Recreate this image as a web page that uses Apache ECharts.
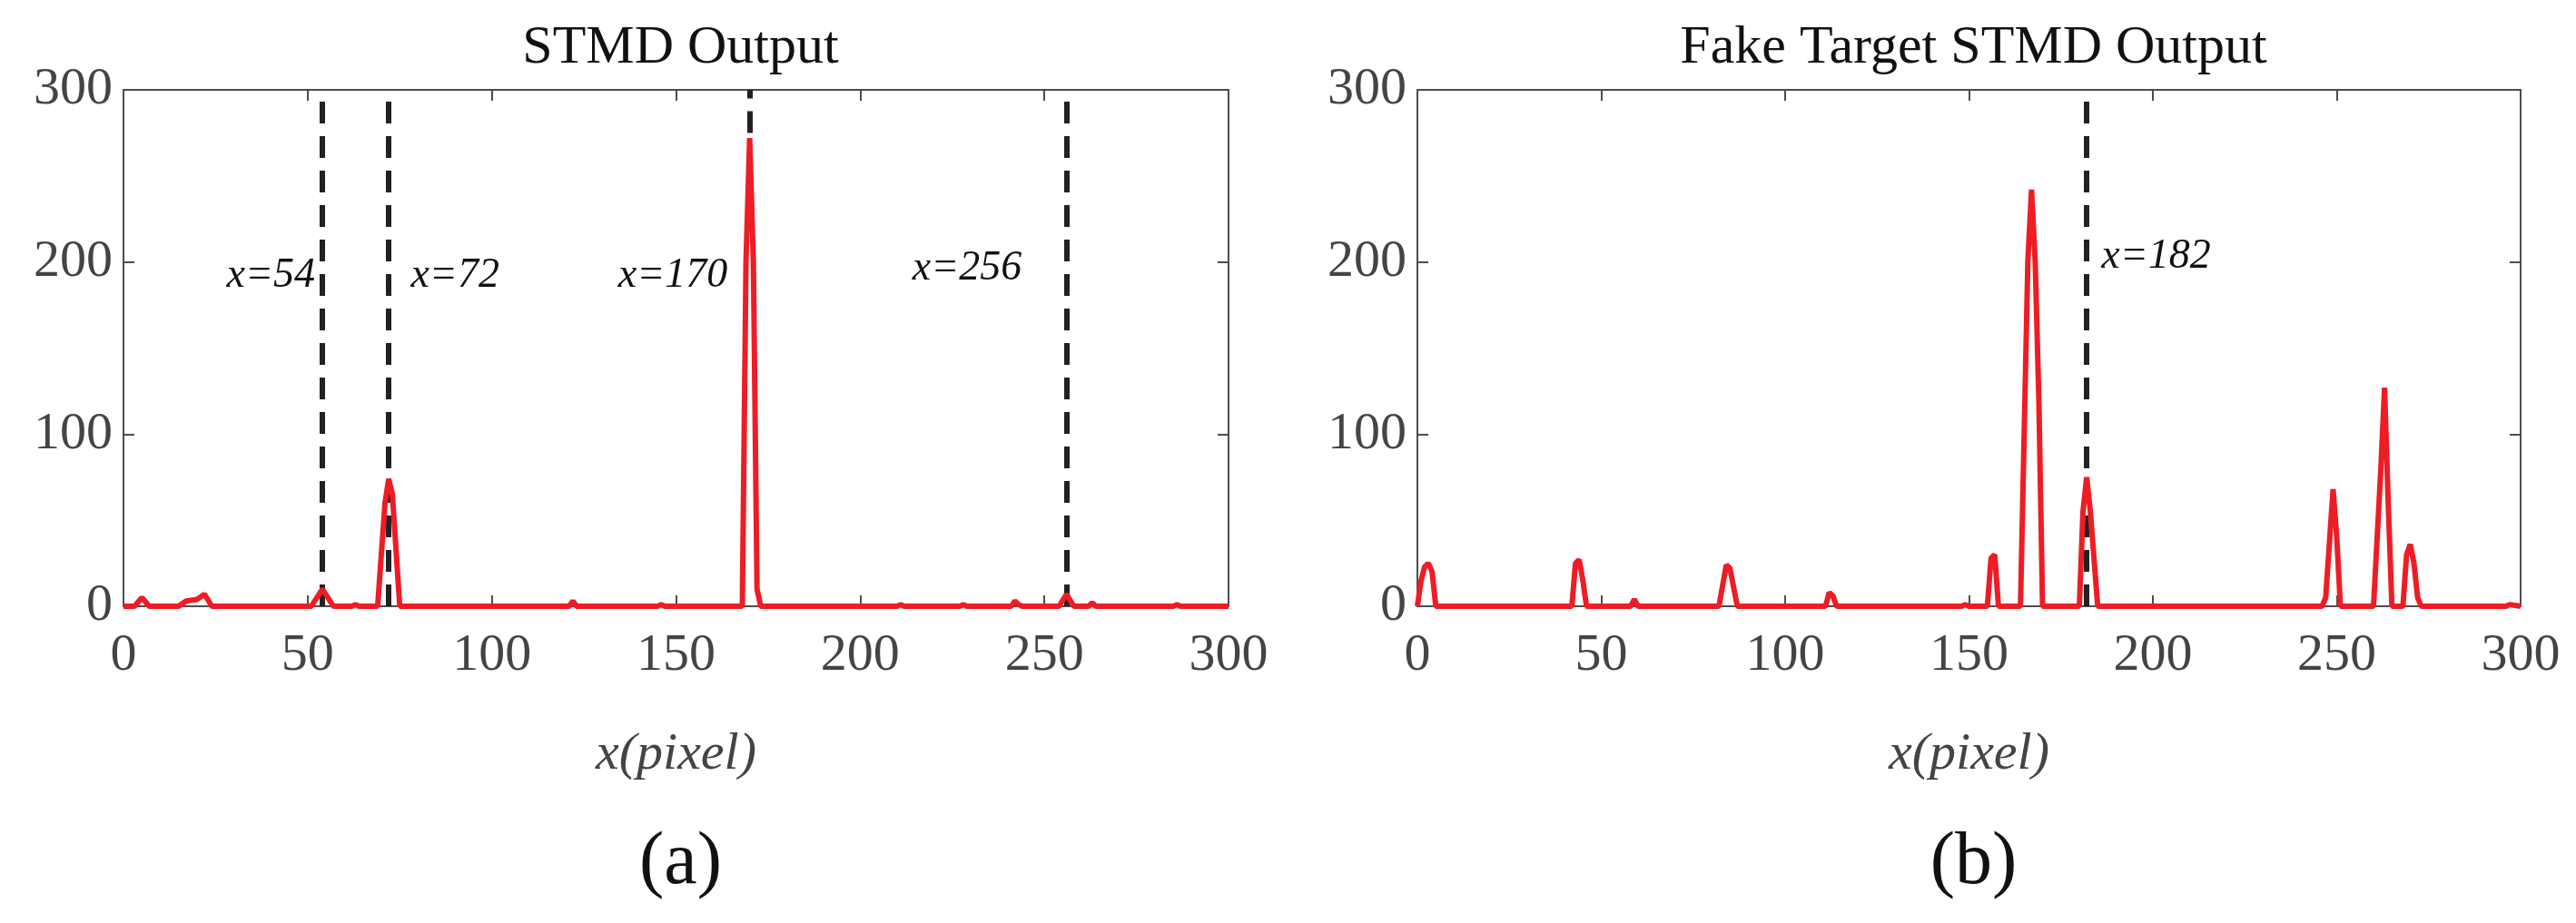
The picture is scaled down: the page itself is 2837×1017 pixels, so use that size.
<!DOCTYPE html>
<html>
<head>
<meta charset="utf-8">
<script src="https://cdn.jsdelivr.net/npm/echarts@6/dist/echarts.min.js"></script>
<style>html,body{margin:0;padding:0;background:#fff}#main{width:2837px;height:1017px}</style>
</head>
<body>
<div id="main"></div>
<script>
// STMD output (a): [x, response]
var stmdA = [[0,0],[3,0],[5,5],[7,0],[15,0],[17,3],[20,4],[22,7],[24,0],[51,0],[54,10],[57,0],[62,0],[63,1],[64,0],
  [69,0],[71,60],[72,74],[73,65],[75,0],[121,0],[122,3],[123,0],[145,0],[146,1],[147,0],[168,0],[169,200],[170,272],
  [171,200],[172,10],[173,0],[210,0],[211,1],[212,0],[227,0],[228,1],[229,0],[241,0],[242,3],[243,1],[244,0],
  [254,0],[256,7],[258,0],[262,0],[263,2],[264,0],[285,0],[286,1],[287,0],[300,0]];
// Fake target STMD output (b)
var stmdB = [[0,0],[1,15],[2,23],[3,25],[4,20],[5,0],[42,0],[43,25],[44,27],[45,15],[46,0],[58,0],[59,4],[60,0],
  [82,0],[84,24],[85,22],[87,0],[111,0],[112,8],[113,6],[114,0],[148,0],[149,1],[150,0],[155,0],[156,28],[157,30],[158,0],
  [164,0],[166,200],[167,242],[168,200],[169,120],[170,0],[180,0],[181,55],[182,75],[183,55],[185,0],
  [246,0],[247,5],[249,68],[250,40],[251,0],[260,0],[262,80],[263,127],[264,60],[265,0],[268,0],[269,30],
  [270,36],[271,25],[272,5],[273,0],[296,0],[297,1],[300,0]];
// dashed markers: [x, yFrom, yTo]
var linesA = [[54,0,300],[72,0,300],[170,275,300],[256,0,300]];
var linesB = [[182,0,300]];
// marker labels: [x, y, text, align]
var labelsA = [[40,192,'x=54','center'],[78,192,'x=72','left'],[164,192,'x=170','right'],[229,196,'x=256','center']];
var labelsB = [[186,203,'x=182','left']];
var titles = ['STMD Output','Fake Target STMD Output'];
var captions = ['(a)','(b)'];

var font = 'Liberation Serif';
var grids = [{left:136,width:1217,top:99,height:569},{left:1561,width:1215,top:99,height:569}];

function xAx(g, pos){
  return {type:'value',gridIndex:g,position:pos,min:0,max:300,interval:50,
    axisLine:{show:true,onZero:false,lineStyle:{color:'#4d4d4d',width:2}},
    axisTick:{show:true,inside:true,length:12,lineStyle:{color:'#4d4d4d',width:2}},
    axisLabel:{show:pos==='bottom',fontFamily:font,fontSize:58,color:'#444',margin:26},
    splitLine:{show:false},
    name:pos==='bottom'?'x(pixel)':'',nameLocation:'middle',nameGap:135,
    nameTextStyle:{fontFamily:font,fontSize:58,fontStyle:'italic',color:'#444'}};
}
function yAx(g, pos){
  return {type:'value',gridIndex:g,position:pos,min:0,max:300,interval:100,
    axisLine:{show:true,onZero:false,lineStyle:{color:'#4d4d4d',width:2}},
    axisTick:{show:true,inside:true,length:12,lineStyle:{color:'#4d4d4d',width:2}},
    axisLabel:{show:pos==='left',fontFamily:font,fontSize:58,color:'#444',margin:12},
    splitLine:{show:false}};
}
function mkLines(arr){
  return arr.map(function(l){return [{coord:[l[0],l[1]]},{coord:[l[0],l[2]]}];});
}
function mkLabels(arr){
  return arr.map(function(l){return {coord:[l[0],l[1]],value:l[2],
    label:{show:true,formatter:l[2],align:l[3],verticalAlign:'middle',fontFamily:font,fontSize:46,fontStyle:'italic',color:'#111'}};});
}
function mkSeries(data, lines, labels, i){
  return {type:'line',xAxisIndex:i*2,yAxisIndex:i*2,data:data,showSymbol:false,symbol:'none',
    lineStyle:{color:'#ee1c25',width:6},z:3,silent:true,
    markLine:{symbol:'none',silent:true,label:{show:false},
      lineStyle:{color:'#222',width:6,type:[24,14]},data:mkLines(lines),z:2},
    markPoint:{symbol:'circle',symbolSize:0,silent:true,data:mkLabels(labels)}};
}

var option = {
  animation:false,
  backgroundColor:'#fff',
  title:[0,1].map(function(i){return {text:titles[i],left:grids[i].left+grids[i].width/2,top:18,textAlign:'center',
    textStyle:{fontFamily:font,fontSize:60,fontWeight:'normal',color:'#111'}};}).concat(
    [0,1].map(function(i){return {text:captions[i],left:grids[i].left+grids[i].width/2,top:905,textAlign:'center',
    textStyle:{fontFamily:font,fontSize:82,fontWeight:'normal',color:'#111'}};})),
  grid:grids,
  xAxis:[xAx(0,'bottom'),xAx(0,'top'),xAx(1,'bottom'),xAx(1,'top')],
  yAxis:[yAx(0,'left'),yAx(0,'right'),yAx(1,'left'),yAx(1,'right')],
  series:[mkSeries(stmdA,linesA,labelsA,0),mkSeries(stmdB,linesB,labelsB,1)]
};
var myChart = echarts.init(document.getElementById('main'));
myChart.setOption(option);
</script>
</body>
</html>
